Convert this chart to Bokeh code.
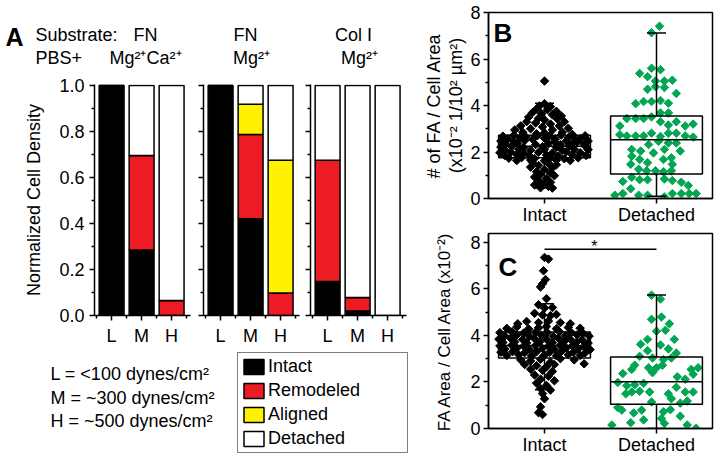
import numpy as np
from bokeh.plotting import figure
from bokeh.models import (Range1d, FactorRange, FixedTicker, Label, Legend, LegendItem,
                          ColumnDataSource, NumeralTickFormatter)
from bokeh.layouts import row, column
from bokeh.embed import file_html
from bokeh.resources import INLINE

FONT = "Liberation Sans"

# ---------------- Panel A data ----------------
CONDITIONS = ["L", "M", "H"]
STATUSES = ["Intact", "Remodeled", "Aligned", "Detached"]
STATUS_COLORS = ["#000000", "#ED1C24", "#FFF200", "#FFFFFF"]
SUBSTRATES = ["FN", "FN", "Col I"]
BUFFERS = ["Mg\u00b2\u207aCa\u00b2\u207a", "Mg\u00b2\u207a", "Mg\u00b2\u207a"]

FN_MGCA_INTACT = [1.000, 0.285, 0.000]
FN_MGCA_REMODELED = [0.000, 0.410, 0.065]
FN_MGCA_ALIGNED = [0.000, 0.000, 0.000]
FN_MGCA_DETACHED = [0.000, 0.305, 0.935]

FN_MG_INTACT = [1.000, 0.420, 0.000]
FN_MG_REMODELED = [0.000, 0.367, 0.098]
FN_MG_ALIGNED = [0.000, 0.131, 0.577]
FN_MG_DETACHED = [0.000, 0.082, 0.325]

COL_MG_INTACT = [0.148, 0.020, 0.000]
COL_MG_REMODELED = [0.527, 0.058, 0.000]
COL_MG_ALIGNED = [0.000, 0.000, 0.000]
COL_MG_DETACHED = [0.325, 0.922, 1.000]

A_Y_TICKS = [0.0, 0.2, 0.4, 0.6, 0.8, 1.0]
A_Y_MINOR = [0.1, 0.3, 0.5, 0.7, 0.9]
SHEAR_NOTES = ["L = <100 dynes/cm\u00b2", "M = ~300 dynes/cm\u00b2", "H = ~500 dynes/cm\u00b2"]

# ---------------- Panels B / C data ----------------
GROUPS = ["Intact", "Detached"]
BOX_Y_TICKS = [0, 2, 4, 6, 8]
BOX_Y_MINOR = [1, 3, 5, 7]

# box statistics (Intact, Detached)
B_Q1 = [1.75, 1.05]
B_MED = [2.25, 2.53]
B_Q3 = [2.72, 3.55]
B_LO = [0.45, 0.10]
B_HI = [4.10, 7.12]

C_Q1 = [3.03, 1.04]
C_MED = [3.57, 2.01]
C_Q3 = [4.15, 3.07]
C_LO = [1.66, 0.00]
C_HI = [5.36, 5.74]
C_SIG_Y = 7.7

# points: (horizontal jitter in px of the original, value)
B_INTACT_POINTS = [
    (0, 5.05), (0, 4.08), (-5, 3.98), (6, 3.95), (-8, 3.85), (3, 3.82), (12, 3.75), (-12, 3.70),
    (-3, 3.65), (8, 3.60), (17, 3.55), (-16, 3.50), (-6, 3.45), (13, 3.42), (0, 3.38), (-18, 3.30),
    (20, 3.30), (-9, 3.25), (6, 3.20), (-24, 3.12), (15, 3.12), (-2, 3.08), (24, 3.02), (-14, 3.00),
    (-30, 2.95), (8, 2.95), (-22, 2.85), (18, 2.85), (0, 2.82), (-8, 2.78), (28, 2.76),
    (-42, 2.68), (-31, 2.72), (-19, 2.66), (-7, 2.71), (5, 2.69), (17, 2.73), (29, 2.67), (41, 2.70),
    (-37, 2.57), (-25, 2.60), (-12, 2.55), (0, 2.59), (11, 2.56), (24, 2.61), (36, 2.57),
    (-44, 2.47), (-31, 2.44), (-20, 2.49), (10, 2.45), (22, 2.48), (33, 2.43), (44, 2.47),
    (-39, 2.33), (-27, 2.36), (-9, 2.32), (4, 2.35), (16, 2.31), (28, 2.36), (40, 2.33),
    (-44, 2.21), (-33, 2.24), (-21, 2.19), (-2, 2.23), (12, 2.20), (25, 2.25), (42, 2.21),
    (-40, 2.09), (-26, 2.12), (-14, 2.08), (0, 2.11), (18, 2.07), (30, 2.12), (44, 2.10),
    (-45, 1.97), (-34, 2.00), (-21, 1.95), (-6, 1.99), (8, 1.96), (22, 2.01), (36, 1.97),
    (-40, 1.85), (-28, 1.88), (-15, 1.84), (2, 1.87), (14, 1.83), (28, 1.88), (42, 1.85),
    (-36, 1.73), (-23, 1.76), (-10, 1.72), (6, 1.75), (20, 1.71), (34, 1.75),
    (-28, 1.63), (-14, 1.66), (0, 1.62), (12, 1.65), (26, 1.63),
    (-12, 1.55), (4, 1.52), (12, 1.45), (-6, 1.42), (-14, 1.35), (8, 1.32), (0, 1.25), (-8, 1.15),
    (6, 1.10), (-4, 1.02), (10, 0.98), (-10, 0.92), (2, 0.85), (-6, 0.76), (6, 0.70), (-2, 0.62),
    (-10, 0.58), (4, 0.52), (-4, 0.46), (8, 0.45),
]
B_DETACHED_POINTS = [
    (3, 7.41), (-5, 7.13), (-5, 5.60), (4, 5.54), (-17, 5.38), (-9, 5.24), (-1, 5.05), (8, 5.05),
    (16, 5.09), (-9, 4.70), (-1, 4.81), (8, 4.77), (20, 4.52), (-21, 4.08), (-13, 4.17), (-5, 4.17),
    (4, 4.21), (12, 4.10), (4, 3.68), (12, 3.68), (-37, 3.12), (-30, 3.44), (-21, 3.44), (-13, 3.44),
    (-5, 3.51), (4, 3.30), (12, 3.16), (20, 3.30), (29, 3.12), (37, 3.20), (-37, 2.74), (-30, 2.69),
    (-21, 2.69), (-13, 2.69), (-5, 2.81), (4, 2.67), (12, 2.81), (20, 2.81), (29, 2.69), (37, 2.64),
    (2, 2.46), (-8, 2.32), (12, 2.39), (20, 2.39), (-25, 2.11), (-16, 2.04), (-3, 1.96), (8, 2.11),
    (24, 2.04), (-25, 1.82), (-17, 1.68), (-9, 1.54), (7, 1.68), (15, 1.75), (16, 1.47), (-26, 1.47),
    (-18, 1.26), (-10, 1.19), (-1, 1.19), (7, 1.15), (15, 1.19), (-25, 0.91), (-17, 0.81), (-9, 0.81),
    (8, 0.84), (16, 0.77), (25, 0.70), (-34, 0.73), (-26, 0.42), (32, 0.56), (-42, 0.14), (-34, 0.21),
    (-18, 0.14), (-9, 0.14), (8, 0.07), (16, 0.21), (25, 0.21), (33, 0.21), (40, 0.21),
]
C_INTACT_POINTS = [
    (0, 7.35), (4, 7.28), (-1, 6.78), (1, 6.40), (-2, 6.22), (-4, 6.08),
    (2, 5.58), (-6, 5.32), (0, 5.18), (8, 5.20), (-10, 4.95), (-2, 4.88), (6, 4.85), (12, 4.90),
    (-18, 4.60), (-6, 4.55), (4, 4.62), (16, 4.55), (-27, 4.50), (26, 4.50),
    (-38, 4.30), (-28, 4.36), (-16, 4.28), (-6, 4.33), (2, 4.38), (12, 4.29), (24, 4.34), (36, 4.31),
    (-45, 4.12), (-33, 4.15), (-21, 4.10), (-9, 4.14), (3, 4.11), (15, 4.16), (27, 4.12), (39, 4.09),
    (-40, 3.98), (-28, 4.01), (-15, 3.96), (-3, 4.00), (9, 3.95), (21, 3.99), (33, 4.02), (45, 3.97),
    (-46, 3.84), (-34, 3.87), (-22, 3.82), (-10, 3.86), (2, 3.83), (14, 3.88), (26, 3.84), (38, 3.81),
    (-42, 3.70), (-30, 3.73), (-18, 3.68), (-5, 3.72), (8, 3.69), (20, 3.74), (32, 3.70), (44, 3.67),
    (-45, 3.55), (-33, 3.58), (-21, 3.54), (-9, 3.57), (4, 3.53), (16, 3.58), (28, 3.55), (40, 3.52),
    (-40, 3.42), (-28, 3.45), (-15, 3.40), (-2, 3.44), (10, 3.41), (22, 3.46), (34, 3.42), (46, 3.39),
    (-44, 3.28), (-32, 3.31), (-20, 3.26), (-8, 3.30), (5, 3.27), (17, 3.31), (29, 3.28), (41, 3.25),
    (-38, 3.14), (-26, 3.17), (-13, 3.12), (0, 3.16), (12, 3.13), (24, 3.17), (36, 3.14),
    (-24, 2.95), (-14, 2.90), (-4, 2.98), (6, 2.85), (16, 3.00), (30, 2.95), (40, 2.78),
    (-20, 2.75), (-8, 2.70), (2, 2.65), (10, 2.75), (-14, 2.55), (-2, 2.50), (8, 2.45),
    (-10, 2.30), (4, 2.25), (-4, 2.12), (10, 2.05), (-8, 1.95), (2, 1.85), (-4, 1.72), (6, 1.65),
    (-2, 1.50), (0, 1.28), (-4, 0.93), (-6, 0.68), (-2, 0.60),
]
C_DETACHED_POINTS = [
    (-5, 5.73), (4, 5.56), (-5, 4.69), (5, 4.79), (13, 4.50), (9, 4.22), (0, 4.18), (18, 3.83),
    (-9, 3.83), (-16, 3.62), (4, 3.59), (-9, 3.34), (12, 3.42), (20, 3.24), (-17, 3.10), (-4, 3.03),
    (7, 2.96), (15, 3.03), (-22, 2.72), (-8, 2.61), (0, 2.61), (6, 2.72), (35, 2.54), (42, 2.61),
    (-34, 2.36), (-25, 2.54), (-4, 2.40), (21, 2.22), (29, 2.12), (37, 2.33), (-39, 1.98), (-30, 1.84),
    (-22, 1.88), (-13, 1.94), (-17, 1.60), (-25, 1.57), (-31, 1.49), (-7, 1.57), (12, 1.49), (20, 1.77),
    (29, 1.57), (37, 1.57), (15, 1.28), (24, 1.09), (31, 1.18), (-39, 0.90), (-35, 0.79), (-23, 0.67),
    (-15, 0.79), (-5, 1.14), (7, 0.72), (14, 0.81), (-45, 0.15), (-26, 0.25), (-13, 0.37), (5, 0.43),
    (8, 0.22), (24, 0.53), (31, 0.15), (40, 0.01),
]
JITTER_PX_PER_GROUP = 113.0

GREEN = "#00A651"


def style_axis(ax):
    ax.axis_line_width = 1.5
    ax.axis_line_color = "black"
    ax.major_tick_line_width = 1.5
    ax.minor_tick_line_width = 1.5
    ax.major_tick_line_color = "black"
    ax.minor_tick_line_color = "black"
    ax.major_tick_in = 0
    ax.major_tick_out = 5
    ax.minor_tick_in = 0
    ax.minor_tick_out = 3
    ax.major_label_text_font = FONT
    ax.major_label_text_font_size = "18px"
    ax.major_label_text_color = "black"
    ax.axis_label_text_font = FONT
    ax.axis_label_text_font_size = "18px"
    ax.axis_label_text_font_style = "normal"
    ax.axis_label_text_color = "black"


def add_text(p, x, y, text, size="18px", bold=False, align="left"):
    p.add_layout(Label(x=x, y=y, x_units="screen", y_units="screen", text=text,
                       text_font=FONT, text_font_size=size,
                       text_font_style="bold" if bold else "normal",
                       text_align=align, text_baseline="alphabetic", text_color="black"))


def blank_figure(width, height):
    p = figure(width=width, height=height, x_range=Range1d(0, 1), y_range=Range1d(0, 1),
               output_backend="svg", toolbar_location=None, x_axis_type=None, y_axis_type=None,
               min_border_left=0, min_border_right=0, min_border_top=0, min_border_bottom=0)
    p.xgrid.visible = False
    p.ygrid.visible = False
    p.outline_line_color = None
    return p


# ---------------- header of panel A ----------------
ph = blank_figure(412, 76)
add_text(ph, 5, 40, "A", size="25px", bold=True)
add_text(ph, 35, 42, "Substrate:")
add_text(ph, 35, 19, "PBS+")
for sub, buf, cx_sub, cx_buf in zip(SUBSTRATES, BUFFERS, [145, 245, 353], [145, 251, 359]):
    add_text(ph, cx_sub, 42, sub, align="center")
    add_text(ph, cx_buf, 19, buf, align="center")


def make_group(intact, remod, align, det, left_border, right_border, first):
    width = left_border + 96 + right_border
    p = figure(width=width, height=272, x_range=Range1d(0.43, 3.63), y_range=Range1d(0, 1.004),
               output_backend="svg", toolbar_location=None,
               min_border_left=left_border, min_border_right=right_border,
               min_border_top=8, min_border_bottom=32)
    src = ColumnDataSource(dict(x=[1, 2, 3], Intact=intact, Remodeled=remod,
                                Aligned=align, Detached=det))
    p.vbar_stack(STATUSES, x="x", width=0.83, fill_color=STATUS_COLORS,
                 line_color="black", line_width=1.5, source=src)
    p.xgrid.visible = False
    p.ygrid.visible = False
    p.outline_line_color = None
    xa = p.xaxis[0]
    ya = p.yaxis[0]
    style_axis(xa)
    style_axis(ya)
    xa.ticker = FixedTicker(ticks=[1, 2, 3], minor_ticks=[0.5, 1.5, 2.5, 3.5])
    xa.major_label_overrides = {i + 1: c for i, c in enumerate(CONDITIONS)}
    xa.major_label_standoff = 5
    ya.ticker = FixedTicker(ticks=A_Y_TICKS, minor_ticks=A_Y_MINOR)
    if first:
        ya.formatter = NumeralTickFormatter(format="0.0")
        ya.axis_label = "Normalized Cell Density"
        ya.axis_label_standoff = 12
        ya.major_label_standoff = 5
    else:
        ya.major_label_overrides = {t: "" for t in A_Y_TICKS}
        ya.major_label_standoff = 0
    return p


a1 = make_group(FN_MGCA_INTACT, FN_MGCA_REMODELED, FN_MGCA_ALIGNED, FN_MGCA_DETACHED, 94, 6, True)
a2 = make_group(FN_MG_INTACT, FN_MG_REMODELED, FN_MG_ALIGNED, FN_MG_DETACHED, 7, 5, False)
a3 = make_group(COL_MG_INTACT, COL_MG_REMODELED, COL_MG_ALIGNED, COL_MG_DETACHED, 6, 6, False)

# ---------------- bottom: notes + legend ----------------
pb = blank_figure(412, 109)
legend_renderers = [pb.vbar(x=[np.nan], top=[np.nan], width=0.5, fill_color=c, line_color="black",
                            line_width=1.5) for c in STATUS_COLORS]
legend = Legend(items=[LegendItem(label=s, renderers=[r]) for s, r in zip(STATUSES, legend_renderers)],
                location="top_right", margin=4, padding=3, spacing=3,
                glyph_width=25, glyph_height=19, label_height=20, label_width=136,
                label_standoff=2, label_text_font=FONT, label_text_font_size="18px",
                label_text_color="black", border_line_color="black", border_line_width=1.5,
                background_fill_color="white", background_fill_alpha=1.0)
pb.add_layout(legend)
for note, yy in zip(SHEAR_NOTES, [84, 60, 37]):
    add_text(pb, 50, yy, note)


def make_box(points_int, points_det, q1, med, q3, lo, hi, y_end, height, btop, bbot, ylabel,
             ylabel_size, ylabel_standoff):
    p = figure(width=304, height=height, x_range=FactorRange(*GROUPS), y_range=Range1d(0, y_end),
               output_backend="svg", toolbar_location=None,
               min_border_left=76, min_border_right=4, min_border_top=btop, min_border_bottom=bbot)
    p.xgrid.visible = False
    p.ygrid.visible = False
    p.outline_line_color = "black"
    p.outline_line_width = 1.5
    for pts, grp, col in [(points_int, GROUPS[0], "black"), (points_det, GROUPS[1], GREEN)]:
        xs = [(grp, dx / JITTER_PX_PER_GROUP) for dx, _ in pts]
        ys = [v for _, v in pts]
        p.scatter(x=xs, y=ys, marker="square", angle=np.pi / 4, size=6,
                  fill_color=col, line_color=col)
    p.vbar(x=GROUPS, bottom=q1, top=q3, width=0.82, fill_color=None, line_color="black",
           line_width=1.5)
    p.segment(x0=[(g, -0.41) for g in GROUPS], x1=[(g, 0.41) for g in GROUPS], y0=med, y1=med,
              line_color="black", line_width=1.5)
    p.segment(x0=GROUPS, x1=GROUPS, y0=q3, y1=hi, line_color="black", line_width=1.5)
    p.segment(x0=GROUPS, x1=GROUPS, y0=lo, y1=q1, line_color="black", line_width=1.5)
    p.segment(x0=[(g, -0.085) for g in GROUPS], x1=[(g, 0.085) for g in GROUPS], y0=hi, y1=hi,
              line_color="black", line_width=1.5)
    p.segment(x0=[(g, -0.085) for g in GROUPS], x1=[(g, 0.085) for g in GROUPS], y0=lo, y1=lo,
              line_color="black", line_width=1.5)
    xa = p.xaxis[0]
    ya = p.yaxis[0]
    style_axis(xa)
    style_axis(ya)
    xa.major_label_standoff = 1
    ya.ticker = FixedTicker(ticks=BOX_Y_TICKS, minor_ticks=BOX_Y_MINOR)
    ya.major_label_standoff = 3
    ya.axis_label = ylabel
    ya.axis_label_text_font_size = ylabel_size
    ya.axis_label_standoff = ylabel_standoff
    ya.axis_label_text_line_height = 1.1
    return p


pB = make_box(B_INTACT_POINTS, B_DETACHED_POINTS, B_Q1, B_MED, B_Q3, B_LO, B_HI, 8.0, 227, 12, 27,
              "# of FA / Cell Area\n(x10\u207b\u00b2 1/10\u00b2 \u00b5m\u00b2)", "18px", 1)
add_text(pB, 5, 166, "B", size="26px", bold=True)

pC = make_box(C_INTACT_POINTS, C_DETACHED_POINTS, C_Q1, C_MED, C_Q3, C_LO, C_HI, 8.38, 230, 6, 26,
              "FA Area / Cell Area (x10\u207b\u00b2)", "17px", 13)
add_text(pC, 10, 162, "C", size="26px", bold=True)
pC.segment(x0=[GROUPS[0]], x1=[GROUPS[1]], y0=[C_SIG_Y], y1=[C_SIG_Y], line_color="black",
           line_width=1.5)
pC.add_layout(Label(x=0.946, y=C_SIG_Y + 0.13, text="*", text_font=FONT, text_font_size="16px",
                    text_align="center", text_baseline="alphabetic", text_color="black"))

layout = row(column(ph, row(a1, a2, a3), pb), column(pB, pC))
open("out.html", "w").write(file_html(layout, INLINE))
